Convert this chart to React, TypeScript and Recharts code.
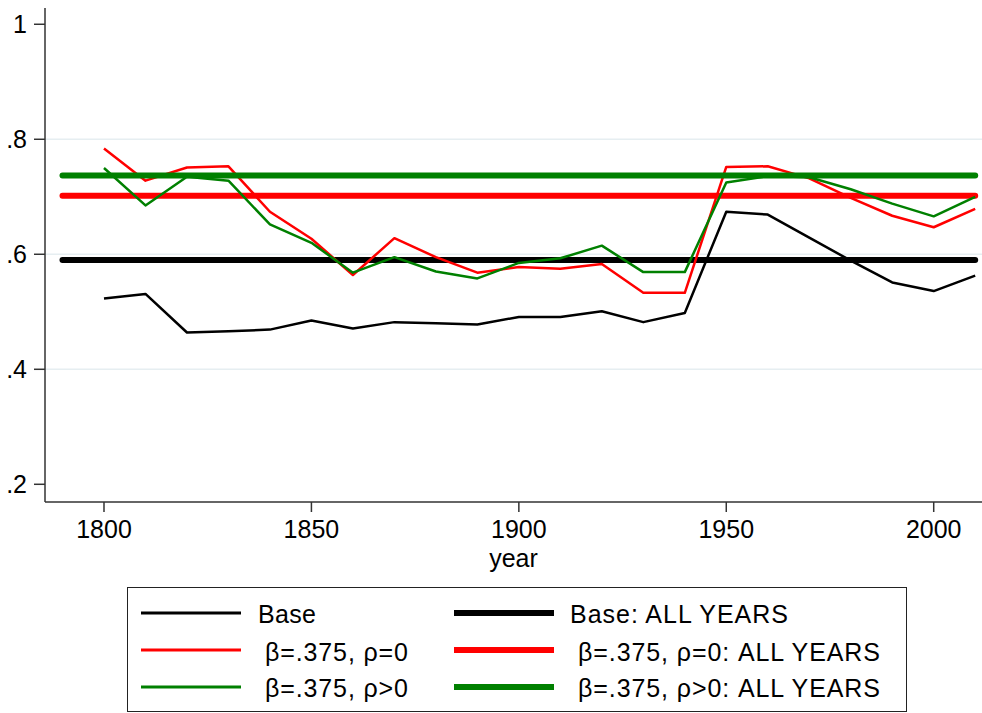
import React from 'react';
import { LineChart, Line, XAxis, YAxis, ReferenceLine } from 'recharts';

const years = [1800, 1810, 1820, 1830, 1840, 1850, 1860, 1870, 1880, 1890, 1900, 1910, 1920, 1930, 1940, 1950, 1960, 1970, 1980, 1990, 2000, 2010];
const base = [0.523, 0.531, 0.464, 0.466, 0.469, 0.485, 0.471, 0.482, 0.480, 0.478, 0.491, 0.491, 0.501, 0.482, 0.498, 0.674, 0.669, 0.629, 0.589, 0.551, 0.536, 0.563];
const rhoZero = [0.784, 0.728, 0.751, 0.753, 0.674, 0.627, 0.564, 0.628, 0.595, 0.568, 0.578, 0.575, 0.583, 0.533, 0.533, 0.752, 0.753, 0.732, 0.698, 0.667, 0.647, 0.679];
const rhoPos = [0.750, 0.685, 0.735, 0.728, 0.652, 0.620, 0.568, 0.595, 0.570, 0.558, 0.585, 0.593, 0.615, 0.569, 0.569, 0.725, 0.736, 0.734, 0.713, 0.688, 0.666, 0.700];

// pooled estimates, drawn across the whole span
const allYearsSpan = [1790, 2010];
const baseAll = 0.590;
const rhoZeroAll = 0.702;
const rhoPosAll = 0.737;

const xTicks = [1800, 1850, 1900, 1950, 2000];
const yTicks = [0.2, 0.4, 0.6, 0.8, 1];
const gridValues = [0.4, 0.6, 0.8];

const legendLabels = ['Base', 'β=.375, ρ=0', 'β=.375, ρ>0', 'Base: ALL YEARS', 'β=.375, ρ=0: ALL YEARS', 'β=.375, ρ>0: ALL YEARS'];

const RED = '#ff0000';
const GREEN = '#008000';
const FONT = '"Liberation Sans", Arial, Helvetica, sans-serif';

const data = years.map((year, i) => ({ year, base: base[i], rhoZero: rhoZero[i], rhoPos: rhoPos[i] }));
const flat = (v: number) => allYearsSpan.map(year => ({ year, v }));

const fmtY = (v: number) => (v === 1 ? '1' : String(v).replace(/^0/, ''));

const LegendBox = () => {
    const rows = [26, 63, 100];
    const textY = [27, 65, 101];
    const widths = [58, 143, 143, 218, 302, 302];
    const colors = ['#000', RED, GREEN];
    return (
        <div style={{ position: 'absolute', left: 127, top: 587, width: 780, height: 125, border: '1.5px solid #222', boxSizing: 'border-box' }}>
            <svg width={780} height={125} style={{ position: 'absolute', left: -1.5, top: -1.5 }}>
                {rows.map((y, r) => (
                    <g key={r}>
                        <line x1={14} x2={114} y1={y} y2={y} stroke={colors[r]} strokeWidth={3} />
                        <text x={r === 0 ? 131 : 138} y={textY[r]} dominantBaseline="central" fontFamily={FONT} fontSize={25}
                            textLength={widths[r]}>{legendLabels[r]}</text>
                        <line x1={327} x2={427} y1={y} y2={y} stroke={colors[r]} strokeWidth={6} />
                        <text x={r === 0 ? 443 : 451} y={textY[r]} dominantBaseline="central" fontFamily={FONT} fontSize={25}
                            textLength={widths[r + 3]}>{legendLabels[r + 3]}</text>
                    </g>
                ))}
            </svg>
        </div>
    );
};

export default function App() {
    return (
        <div style={{ position: 'absolute', left: 0, top: 0, width: 982, height: 713, background: '#fff' }}>
            <LineChart
                width={982}
                height={713}
                data={data}
                margin={{ top: 8, right: 0, left: 0, bottom: 145 }}
            >
                <XAxis
                    dataKey="year"
                    type="number"
                    domain={[1785.78, 2011.64]}
                    allowDataOverflow
                    ticks={xTicks}
                    tickSize={10}
                    tickMargin={8}
                    height={66}
                    stroke="#333"
                    strokeWidth={1.5}
                    tick={{ fill: '#000', fontSize: 25, fontFamily: FONT }}
                    label={{ value: 'year', position: 'insideBottom', offset: 1, fill: '#000', fontSize: 25, fontFamily: FONT }}
                />
                <YAxis
                    type="number"
                    domain={[0.1692, 1.0283]}
                    allowDataOverflow
                    ticks={yTicks}
                    tickFormatter={fmtY}
                    width={45}
                    tickSize={11}
                    tickMargin={7}
                    stroke="#333"
                    strokeWidth={1.5}
                    tick={{ fill: '#000', fontSize: 25, fontFamily: FONT }}
                />
                {gridValues.map(v => (
                    <ReferenceLine key={v} y={v} stroke="#e6eef1" strokeWidth={1.5} />
                ))}
                <Line dataKey="base" stroke="#000" strokeWidth={2.5} dot={false} activeDot={false} isAnimationActive={false} strokeLinejoin="round" />
                <Line data={flat(baseAll)} dataKey="v" stroke="#000" strokeWidth={6} dot={false} activeDot={false} isAnimationActive={false} strokeLinecap="round" />
                <Line dataKey="rhoZero" stroke={RED} strokeWidth={2.5} dot={false} activeDot={false} isAnimationActive={false} strokeLinejoin="round" />
                <Line data={flat(rhoZeroAll)} dataKey="v" stroke={RED} strokeWidth={6} dot={false} activeDot={false} isAnimationActive={false} strokeLinecap="round" />
                <Line dataKey="rhoPos" stroke={GREEN} strokeWidth={2.5} dot={false} activeDot={false} isAnimationActive={false} strokeLinejoin="round" />
                <Line data={flat(rhoPosAll)} dataKey="v" stroke={GREEN} strokeWidth={6} dot={false} activeDot={false} isAnimationActive={false} strokeLinecap="round" />
            </LineChart>
            <LegendBox />
        </div>
    );
}
